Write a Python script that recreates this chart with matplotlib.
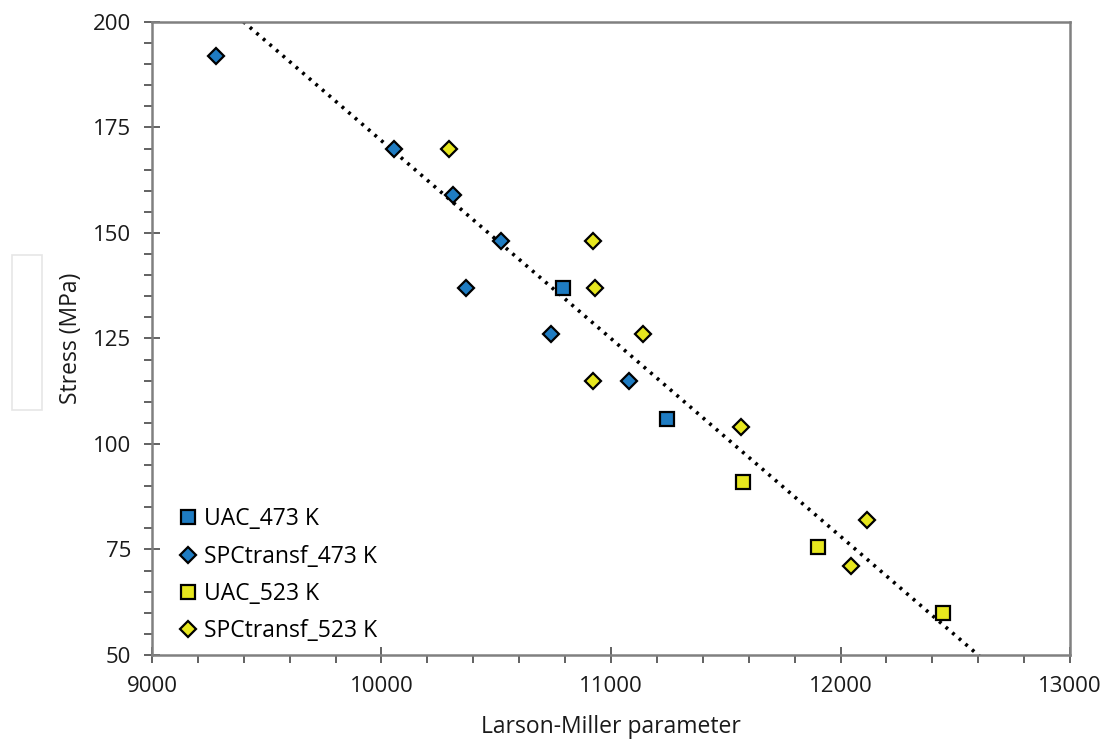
import numpy as np
import matplotlib.pyplot as plt
from matplotlib.patches import Rectangle
from matplotlib.ticker import MultipleLocator

# Larson-Miller parameter vs stress
uac_473_x = [10790, 11245]
uac_473_y = [137, 106]
spc_473_x = [9280, 10055, 10310, 10520, 10370, 10740, 11080]
spc_473_y = [192, 170, 159, 148, 137, 126, 115]
uac_523_x = [11575, 11900, 12445]
uac_523_y = [91, 75.5, 60]
spc_523_x = [10295, 10920, 10930, 11140, 10920, 11565, 12115, 12045]
spc_523_y = [170, 148, 137, 126, 115, 104, 82, 71]

# linear trend: passes (9400, 200) and (12600, 50)
trend_slope = -0.046875
trend_intercept = 640.6

blue = '#1f7cc2'
yellow = '#e6e61e'

plt.rcParams['font.family'] = ['Open Sans', 'DejaVu Sans']

fig = plt.figure(figsize=(11.07, 7.42), dpi=100)
ax = fig.add_axes([0.1373, 0.1173, 0.8293, 0.8531])

tx = np.array([9000, 13000])
ax.plot(tx, trend_slope * tx + trend_intercept, color='black',
        linestyle=(0, (0.8, 1.6)), linewidth=2.6, zorder=1)

ax.plot(uac_473_x, uac_473_y, 's', ms=10.5, mfc=blue, mec='black', mew=1.6,
        label='UAC_473 K', zorder=3)
ax.plot(spc_473_x, spc_473_y, 'D', ms=8.5, mfc=blue, mec='black', mew=1.6,
        label='SPCtransf_473 K', zorder=3)
ax.plot(uac_523_x, uac_523_y, 's', ms=10.5, mfc=yellow, mec='black', mew=1.6,
        label='UAC_523 K', zorder=3)
ax.plot(spc_523_x, spc_523_y, 'D', ms=8.5, mfc=yellow, mec='black', mew=1.6,
        label='SPCtransf_523 K', zorder=3)

ax.set_xlim(9000, 13000)
ax.set_ylim(50, 200)
ax.xaxis.set_major_locator(MultipleLocator(1000))
ax.xaxis.set_minor_locator(MultipleLocator(200))
ax.yaxis.set_major_locator(MultipleLocator(25))
ax.yaxis.set_minor_locator(MultipleLocator(5))
ax.tick_params(which='major', direction='inout', length=12, width=1.3,
               color='#555555', labelsize=16, labelcolor='#1a1a1a', pad=9)
ax.tick_params(which='minor', direction='out', length=6, width=1.3,
               color='#555555')
for s in ax.spines.values():
    s.set_color('#808080')
    s.set_linewidth(1.8)

ax.set_xlabel('Larson-Miller parameter', fontsize=16.5, color='#1a1a1a',
              labelpad=13)
ax.set_ylabel('Stress (MPa)', fontsize=16.5, color='#1a1a1a', labelpad=7)

ax.legend(loc='lower left', bbox_to_anchor=(0.0, -0.014), frameon=False,
          fontsize=16.5, handletextpad=0.05, labelspacing=0.58,
          borderaxespad=0.5, handlelength=1.3)

fig.patches.append(Rectangle((12 / 1107, 1 - 410 / 742), 30 / 1107,
                             155 / 742, transform=fig.transFigure,
                             facecolor='white', edgecolor='#e6e6e6',
                             linewidth=1.2))

fig.savefig('out.png', dpi=100)
